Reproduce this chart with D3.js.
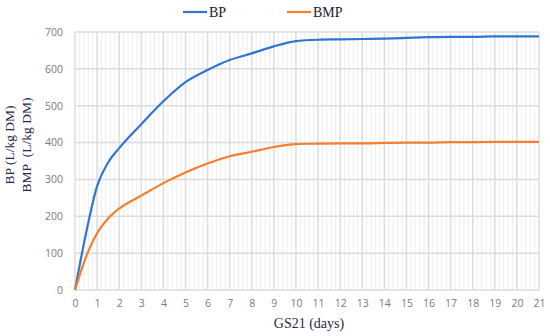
<!DOCTYPE html>
<html>
<head>
<meta charset="utf-8">
<script src="https://cdn.jsdelivr.net/npm/d3@7"></script>
<style>
  body { margin: 0; background: #fff; }
  svg { display: block; }
</style>
</head>
<body>
<div id="chart"></div>
<script>
// days of GS21 and the cumulative yields
var days = [0, 0.5, 1, 1.5, 2, 3, 4, 5, 6, 7, 8, 9, 10, 11, 12, 13, 14, 15, 16, 17, 18, 19, 20, 21];
var bp   = [0, 154, 282, 346, 385, 450, 512, 564, 597, 624, 642, 661, 675, 679, 680, 681, 682, 684, 686, 687, 687, 688, 688, 688];
var bmp  = [0, 90, 154, 194, 221, 256, 290, 319, 343, 363, 375, 388, 396, 397, 398, 398, 399, 400, 400, 401, 401, 402, 402, 402];

var seriesNames = ["BP", "BMP"];
var seriesColors = ["#2f76d2", "#f47f2f"];
var xTicks = d3.range(0, 22);
var yTicks = [0, 100, 200, 300, 400, 500, 600, 700];

var width = 550, height = 336;
var margin = { top: 32, right: 11, bottom: 46, left: 75 };
var plotW = width - margin.left - margin.right;
var plotH = height - margin.top - margin.bottom;

var svg = d3.select("#chart").append("svg")
    .attr("width", width)
    .attr("height", height);

var x = d3.scaleLinear().domain([0, 21]).range([0, plotW]);
var y = d3.scaleLinear().domain([0, 700]).range([plotH, 0]);

var g = svg.append("g")
    .attr("transform", `translate(${margin.left}, ${margin.top})`);

// minor vertical grid every 0.2 day
g.append("g")
    .selectAll("line")
    .data(d3.range(0, 21.01, 0.2).filter(d => Math.abs(d - Math.round(d)) > 0.01))
    .enter()
    .append("line")
    .attr("x1", d => x(d)).attr("x2", d => x(d))
    .attr("y1", 0).attr("y2", plotH)
    .attr("stroke", "#eeeeee")
    .attr("stroke-width", 1);

// major grid
g.append("g")
    .selectAll("line")
    .data(xTicks)
    .enter()
    .append("line")
    .attr("x1", d => x(d)).attr("x2", d => x(d))
    .attr("y1", 0).attr("y2", plotH)
    .attr("stroke", "#dcdcdc")
    .attr("stroke-width", 1.5);

g.append("g")
    .selectAll("line")
    .data(yTicks)
    .enter()
    .append("line")
    .attr("x1", 0).attr("x2", plotW)
    .attr("y1", d => y(d)).attr("y2", d => y(d))
    .attr("stroke", "#dcdcdc")
    .attr("stroke-width", 1.5);

// axes (labels only)
var xAxis = g.append("g")
    .attr("transform", `translate(0, ${plotH})`)
    .call(d3.axisBottom(x).tickValues(xTicks).tickSize(0).tickPadding(10));
var yAxis = g.append("g")
    .call(d3.axisLeft(y).tickValues(yTicks).tickSize(0).tickPadding(12));

[xAxis, yAxis].forEach(function(a) {
    a.select(".domain").remove();
    a.selectAll("text")
        .attr("fill", "#7b7b7b")
        .style("font-family", "'Open Sans', sans-serif")
        .style("font-size", "10.5px");
});

// the two curves
var line = d3.line()
    .x(d => x(d[0]))
    .y(d => y(d[1]))
    .curve(d3.curveMonotoneX);

[bp, bmp].forEach(function(vals, i) {
    g.append("path")
        .datum(days.map((d, j) => [d, vals[j]]))
        .attr("fill", "none")
        .attr("stroke", seriesColors[i])
        .attr("stroke-width", 2.2)
        .attr("d", line);
});

// legend
var serif = "'Liberation Serif', 'DejaVu Serif', serif";
var legendX = [183, 287];
seriesNames.forEach(function(name, i) {
    svg.append("line")
        .attr("x1", legendX[i]).attr("x2", legendX[i] + 24)
        .attr("y1", 12).attr("y2", 12)
        .attr("stroke", seriesColors[i])
        .attr("stroke-width", 2.2);
    svg.append("text")
        .attr("x", legendX[i] + 26)
        .attr("y", 17)
        .attr("fill", "#222")
        .style("font-family", serif)
        .style("font-size", "14px")
        .text(name);
});

// axis titles
svg.append("text")
    .attr("x", margin.left + plotW / 2 + 2)
    .attr("y", 328)
    .attr("text-anchor", "middle")
    .attr("fill", "#1f2a44")
    .style("font-family", serif)
    .style("font-size", "14px")
    .text("GS21 (days)");

var yTitles = [["BP (L/kg DM)", 14], ["BMP\u00a0\u00a0(L/kg DM)", 31]];
yTitles.forEach(function(t) {
    svg.append("text")
        .attr("transform", `translate(${t[1]}, 145) rotate(-90)`)
        .attr("text-anchor", "middle")
        .attr("fill", "#1f2a44")
        .style("font-family", serif)
        .style("font-size", "13.5px")
        .text(t[0]);
});
</script>
</body>
</html>
